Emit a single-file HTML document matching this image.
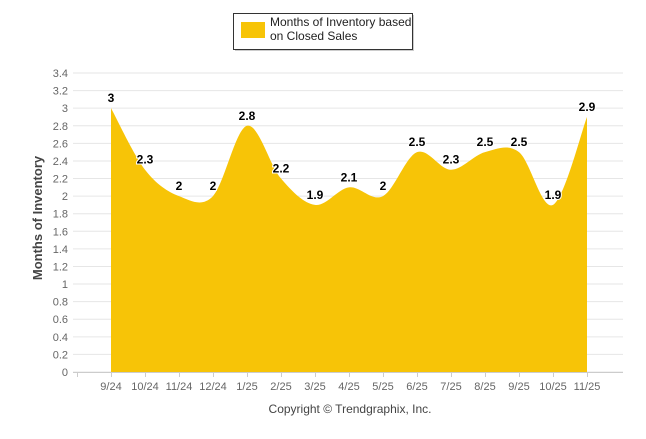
<!DOCTYPE html>
<html><head><meta charset="utf-8"><style>
body{margin:0;background:#fff;width:646px;height:434px;overflow:hidden;font-family:"Liberation Sans",Arial,sans-serif}
</style></head><body>
<svg id="chart" width="646" height="434" xmlns="http://www.w3.org/2000/svg" font-family="Liberation Sans, Arial, sans-serif">
<g id="grid"></g>
<g id="area"></g>
<g id="xaxis"></g>
<g id="yaxis"></g>
<g id="labels"></g>
<text transform="translate(42,218) rotate(-90)" text-anchor="middle" font-size="13" font-weight="bold" fill="#444">Months of Inventory</text>
<g>
<rect x="235" y="15" width="179" height="36" fill="#999" opacity="0.5"/>
<rect x="233.5" y="13.5" width="179" height="36" fill="#fff" stroke="#333" stroke-width="1"/>
<rect x="241" y="22" width="24" height="16" fill="#F7C407"/>
<text x="270" y="26" font-size="12" fill="#222">Months of Inventory based</text>
<text x="270" y="40" font-size="12" fill="#222">on Closed Sales</text>
</g>
<text x="350" y="413" text-anchor="middle" font-size="12" fill="#444">Copyright © Trendgraphix, Inc.</text>
</svg>
<script>
const categories=["9/24","10/24","11/24","12/24","1/25","2/25","3/25","4/25","5/25","6/25","7/25","8/25","9/25","10/25","11/25"];
const values=[3,2.3,2,2,2.8,2.2,1.9,2.1,2,2.5,2.3,2.5,2.5,1.9,2.9];
const yTicks=[0,0.2,0.4,0.6,0.8,1,1.2,1.4,1.6,1.8,2,2.2,2.4,2.6,2.8,3,3.2,3.4];
const NS="http://www.w3.org/2000/svg";
const plotL=73,plotR=623,y0=372,yTop=73,yMax=3.4;
const axisStart=77,step=34;
function xPos(i){return axisStart+step*(i+1);}
function yPos(v){return y0-(v/yMax)*(y0-yTop);}
function mk(tag,attrs,parent){const e=document.createElementNS(NS,tag);for(const k in attrs)e.setAttribute(k,attrs[k]);parent.appendChild(e);return e;}
const grid=document.getElementById('grid'),ya=document.getElementById('yaxis'),xa=document.getElementById('xaxis');
yTicks.forEach(t=>{
  const l=mk('line',{x1:plotL,x2:plotR,y1:yPos(t),y2:yPos(t),stroke:'#e6e6e6','stroke-width':1},grid);
  
  
  const tx=mk('text',{x:68,y:yPos(t)+4,'text-anchor':'end','font-size':11,fill:'#666'},ya);
  
  
  tx.textContent=String(t);
});
mk('line',{x1:plotL,x2:plotR,y1:y0+0.5,y2:y0+0.5,stroke:'#ccc'},xa);
for(let i=0;i<=categories.length;i++){
  const tk=mk('line',{x1:axisStart+step*i+0.5,x2:axisStart+step*i+0.5,y1:y0,y2:y0+5,stroke:'#ccc'},xa);
  
  
}
categories.forEach((c,i)=>{
  const t=mk('text',{x:xPos(i),y:390,'text-anchor':'middle','font-size':11,fill:'#666'},xa);
  
  
  t.textContent=c;
});
// Catmull-Rom spline
const pts=values.map((v,i)=>({x:xPos(i),y:yPos(v)}));
let d=`M${pts[0].x},${y0}L${pts[0].x},${pts[0].y}`;
for(let i=0;i<pts.length-1;i++){
  const p0=pts[i-1]||pts[i],p1=pts[i],p2=pts[i+1],p3=pts[i+2]||pts[i+1];
  const c1x=p1.x+(p2.x-p0.x)/6,c1y=p1.y+(p2.y-p0.y)/6;
  const c2x=p2.x-(p3.x-p1.x)/6,c2y=p2.y-(p3.y-p1.y)/6;
  d+=`C${c1x},${c1y} ${c2x},${c2y} ${p2.x},${p2.y}`;
}
d+=`L${pts[pts.length-1].x},${y0}Z`;
const ar=mk('path',{d:d,fill:'#F7C407'},document.getElementById('area'));


const lg=document.getElementById('labels');
values.forEach((v,i)=>{
  const t=mk('text',{x:xPos(i),y:yPos(v)-6,'text-anchor':'middle','font-size':12,'font-weight':'bold',fill:'#000',stroke:'#fff','stroke-width':2,'paint-order':'stroke'},lg);
  
  
  t.textContent=String(v);
});
</script>
</body></html>
